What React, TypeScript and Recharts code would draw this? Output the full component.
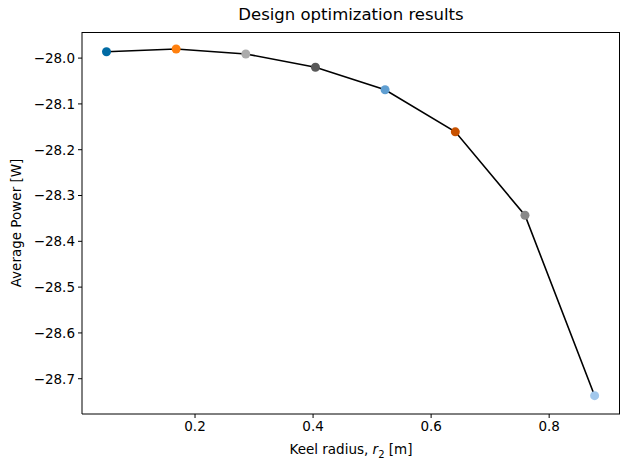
import { LineChart, Line, XAxis, YAxis } from 'recharts'

const radius = [0.05, 0.168, 0.286, 0.404, 0.522, 0.641, 0.759, 0.877]
const power = [-27.986, -27.98, -27.991, -28.02, -28.069, -28.161, -28.343, -28.737]
const xTicks = [0.2, 0.4, 0.6, 0.8]
const yTicks = [-28.0, -28.1, -28.2, -28.3, -28.4, -28.5, -28.6, -28.7]

// tableau colorblind10
const dotColors = ['#006BA4', '#FF800E', '#ABABAB', '#595959', '#5F9ED1', '#C85200', '#898989', '#A2C8EC']

const data = radius.map((r, i) => ({ r, p: power[i] }))

const font = '"DejaVu Sans", sans-serif'
const tickStyle = { fontFamily: font, fontSize: 13.5, fill: '#000' }
const minus = (v: number, d: number) => v.toFixed(d).replace('-', '\u2212')

const Dot = (props: any) => {
    const { cx, cy, index } = props
    return <circle key={index} cx={cx} cy={cy} r={4.5} fill={dotColors[index]} stroke="none" />
}

export default function App() {
    return (
        <div style={{ position: 'absolute', left: 0, top: 0, width: 630, height: 470, background: '#fff', fontFamily: font }}>
            <LineChart width={630} height={470} data={data} margin={{ top: 32, right: 10, left: 0, bottom: 0 }}>
                <XAxis
                    dataKey="r"
                    type="number"
                    domain={[0.0085, 0.92]}
                    ticks={xTicks}
                    tickFormatter={(v) => v.toFixed(1)}
                    height={56}
                    tickSize={4}
                    tickMargin={3}
                    stroke="#000"
                    tick={tickStyle}
                    allowDataOverflow
                />
                <YAxis
                    type="number"
                    domain={[-28.777, -27.943]}
                    ticks={yTicks}
                    tickFormatter={(v) => minus(v, 1)}
                    width={82}
                    tickSize={4}
                    tickMargin={3}
                    stroke="#000"
                    tick={tickStyle}
                    allowDataOverflow
                />
                <Line
                    type="linear"
                    dataKey="p"
                    stroke="#000"
                    strokeWidth={1.6}
                    dot={Dot}
                    activeDot={false}
                    isAnimationActive={false}
                />
            </LineChart>
            {/* axes frame (top/right spines) */}
            <div style={{ position: 'absolute', left: 82, top: 32, width: 538, height: 382, boxSizing: 'border-box', borderTop: '1px solid #000', borderRight: '1px solid #000', pointerEvents: 'none' }} />
            <div style={{ position: 'absolute', left: 82, width: 538, top: 5, textAlign: 'center', fontSize: 16.5, color: '#000' }}>
                Design optimization results
            </div>
            <div style={{ position: 'absolute', left: 82, width: 538, top: 441, textAlign: 'center', fontSize: 13.5, color: '#000' }}>
                Keel radius, <i>r</i><sub style={{ fontSize: 10 }}>2</sub> [m]
            </div>
            <div
                style={{
                    position: 'absolute',
                    left: 16,
                    top: 223,
                    transform: 'translate(-50%, -50%) rotate(-90deg)',
                    whiteSpace: 'nowrap',
                    fontSize: 13.5,
                    color: '#000'
                }}
            >
                Average Power [W]
            </div>
        </div>
    )
}
